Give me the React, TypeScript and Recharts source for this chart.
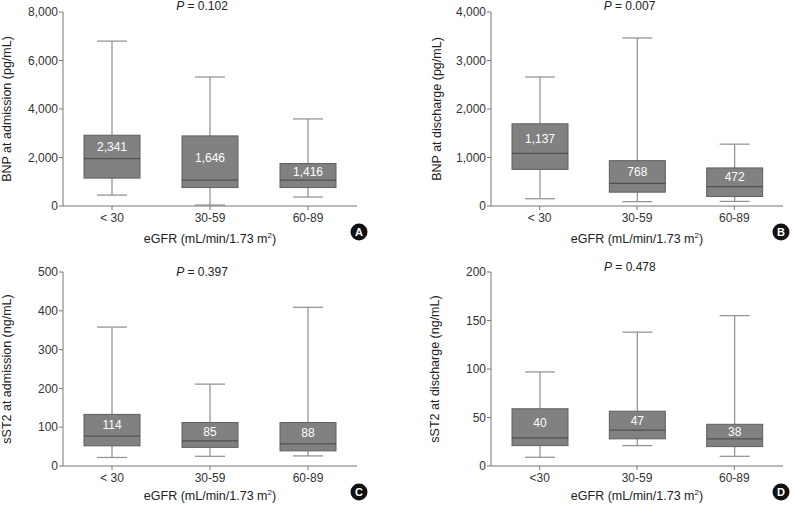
import React from "react";
import { ComposedChart, Bar, XAxis, YAxis } from "recharts";

const CATS = ["< 30", "30-59", "60-89"];
const CATS_D = ["<30", "30-59", "60-89"];

// [min, q1, median, q3, max] per eGFR group
const BNP_ADMISSION = [
  [450, 1150, 1950, 2920, 6800],
  [40, 760, 1070, 2890, 5320],
  [370, 760, 1070, 1750, 3590],
];
const BNP_ADMISSION_MEAN = [2341, 1646, 1416];

const BNP_DISCHARGE = [
  [150, 755, 1085, 1695, 2660],
  [90, 285, 465, 935, 3465],
  [95, 195, 400, 785, 1275],
];
const BNP_DISCHARGE_MEAN = [1137, 768, 472];

const SST2_ADMISSION = [
  [22, 52, 77, 133, 358],
  [25, 48, 65, 112, 211],
  [26, 39, 57, 112, 409],
];
const SST2_ADMISSION_MEAN = [114, 85, 88];

const SST2_DISCHARGE = [
  [9, 21, 29, 59, 97],
  [21, 28, 37, 56.5, 138],
  [10, 20, 28, 43, 155],
];
const SST2_DISCHARGE_MEAN = [40, 47, 38];

const TICKS_A = [0, 2000, 4000, 6000, 8000];
const TICKS_B = [0, 1000, 2000, 3000, 4000];
const TICKS_C = [0, 100, 200, 300, 400, 500];
const TICKS_D = [0, 50, 100, 150, 200];

const FONT = "'Liberation Sans', Arial, Helvetica, sans-serif";

const fmt = (v: number) => v.toLocaleString("en-US");

const BoxShape = (props: any) => {
  const { x, y, width, height, payload } = props;
  const top = Math.min(y, y + height);
  const bottom = Math.max(y, y + height);
  const [min, q1, med, q3, max] = payload.box;
  const pix = (v: number) => bottom - ((v - min) / (max - min)) * (bottom - top);
  const cx = x + width / 2;
  const cap = 15;
  const whisker = "#8e8e8e";
  const labelY = (pix(q3) + pix(med)) / 2;
  return (
    <g>
      <line x1={cx} x2={cx} y1={pix(max)} y2={pix(q3)} stroke={whisker} strokeWidth={1.2} />
      <line x1={cx} x2={cx} y1={pix(q1)} y2={pix(min)} stroke={whisker} strokeWidth={1.2} />
      <line x1={cx - cap} x2={cx + cap} y1={pix(max)} y2={pix(max)} stroke={whisker} strokeWidth={1.2} />
      <line x1={cx - cap} x2={cx + cap} y1={pix(min)} y2={pix(min)} stroke={whisker} strokeWidth={1.2} />
      <rect
        x={x}
        y={pix(q3)}
        width={width}
        height={pix(q1) - pix(q3)}
        fill="#818181"
        stroke="#5f5f5f"
        strokeWidth={1}
      />
      <line x1={x} x2={x + width} y1={pix(med)} y2={pix(med)} stroke="#505050" strokeWidth={1.3} />
      <text
        x={cx}
        y={labelY}
        textAnchor="middle"
        dominantBaseline="central"
        fill="#ffffff"
        fontSize={12}
        fontFamily={FONT}
      >
        {fmt(payload.mean)}
      </text>
    </g>
  );
};

interface PanelProps {
  left: number;
  top: number;
  width: number;
  height: number;
  marginTop: number;
  marginRight: number;
  yWidth: number;
  xHeight: number;
  yLabelX: number;
  xLabelDy: number;
  cats: string[];
  boxes: number[][];
  means: number[];
  ticks: number[];
  yLabel: string;
  pText: string;
  pX: number;
  pY: number;
  badge: string;
  badgeX: number;
  badgeY: number;
}

const Panel: React.FC<PanelProps> = (p) => {
  const data = p.cats.map((cat, i) => ({
    cat,
    range: [p.boxes[i][0], p.boxes[i][4]],
    box: p.boxes[i],
    mean: p.means[i],
  }));
  const tickStyle = { fontSize: 12, fill: "#333", fontFamily: FONT };
  return (
    <div style={{ position: "absolute", left: p.left, top: p.top, width: p.width, height: p.height }}>
      <ComposedChart
        width={p.width}
        height={p.height}
        data={data}
        margin={{ top: p.marginTop, right: p.marginRight, left: 0, bottom: 0 }}
      >
        <XAxis
          dataKey="cat"
          height={p.xHeight}
          tick={tickStyle}
          tickSize={4}
          tickMargin={3}
          axisLine={{ stroke: "#777" }}
          tickLine={{ stroke: "#777" }}
          label={{
            content: (lp: any) => {
              const vb = lp.viewBox;
              return (
                <text
                  x={vb.x + vb.width / 2}
                  y={vb.y + p.xLabelDy}
                  textAnchor="middle"
                  fontSize={12.5}
                  fill="#222"
                  fontFamily={FONT}
                >
                  eGFR (mL/min/1.73 m
                  <tspan fontSize={8} dy={-5}>2</tspan>
                  <tspan dy={5}>)</tspan>
                </text>
              );
            },
          }}
        />
        <YAxis
          width={p.yWidth}
          domain={[0, p.ticks[p.ticks.length - 1]]}
          ticks={p.ticks}
          tickFormatter={fmt}
          tick={tickStyle}
          tickSize={4}
          tickMargin={1}
          axisLine={{ stroke: "#777" }}
          tickLine={{ stroke: "#777" }}
          label={{
            content: (lp: any) => {
              const vb = lp.viewBox;
              const cy = vb.y + vb.height / 2;
              const lx = p.yLabelX;
              return (
                <text
                  x={lx}
                  y={cy}
                  transform={`rotate(-90 ${lx} ${cy})`}
                  textAnchor="middle"
                  dominantBaseline="central"
                  fontSize={12.5}
                  fill="#222"
                  fontFamily={FONT}
                >
                  {p.yLabel}
                </text>
              );
            },
          }}
        />
        <Bar dataKey="range" barSize={56} shape={<BoxShape />} isAnimationActive={false} />
      </ComposedChart>
      <svg
        width={p.width}
        height={p.height}
        style={{ position: "absolute", left: 0, top: 0, pointerEvents: "none" }}
      >
        <text x={p.pX} y={p.pY} textAnchor="middle" fontSize={12} fill="#222" fontFamily={FONT}>
          <tspan fontStyle="italic">P</tspan> = {p.pText}
        </text>
        <circle cx={p.badgeX} cy={p.badgeY} r={8.5} fill="#111" />
        <text
          x={p.badgeX}
          y={p.badgeY}
          textAnchor="middle"
          dominantBaseline="central"
          fontSize={11}
          fontWeight="bold"
          fill="#fff"
          fontFamily={FONT}
        >
          {p.badge}
        </text>
      </svg>
    </div>
  );
};

export default function App() {
  return (
    <div style={{ position: "absolute", left: 0, top: 0, width: 794, height: 507, background: "#fff" }}>
      <Panel
        left={0} top={0} width={397} height={250}
        marginTop={12} marginRight={40} yWidth={63} xHeight={44}
        yLabelX={7} xLabelDy={36.5}
        cats={CATS} boxes={BNP_ADMISSION} means={BNP_ADMISSION_MEAN} ticks={TICKS_A}
        yLabel="BNP at admission (pg/mL)"
        pText="0.102" pX={202} pY={10}
        badge="A" badgeX={359} badgeY={232}
      />
      <Panel
        left={400} top={0} width={394} height={250}
        marginTop={12} marginRight={11} yWidth={91} xHeight={44}
        yLabelX={37} xLabelDy={36.5}
        cats={CATS} boxes={BNP_DISCHARGE} means={BNP_DISCHARGE_MEAN} ticks={TICKS_B}
        yLabel="BNP at discharge (pg/mL)"
        pText="0.007" pX={229.5} pY={10}
        badge="B" badgeX={381} badgeY={232}
      />
      <Panel
        left={0} top={255} width={397} height={252}
        marginTop={17} marginRight={40} yWidth={63} xHeight={41}
        yLabelX={7} xLabelDy={34}
        cats={CATS} boxes={SST2_ADMISSION} means={SST2_ADMISSION_MEAN} ticks={TICKS_C}
        yLabel="sST2 at admission (ng/mL)"
        pText="0.397" pX={202} pY={21}
        badge="C" badgeX={359} badgeY={237}
      />
      <Panel
        left={400} top={255} width={394} height={252}
        marginTop={17} marginRight={11} yWidth={91} xHeight={41}
        yLabelX={35} xLabelDy={34}
        cats={CATS_D} boxes={SST2_DISCHARGE} means={SST2_DISCHARGE_MEAN} ticks={TICKS_D}
        yLabel="sST2 at discharge (ng/mL)"
        pText="0.478" pX={229.8} pY={16}
        badge="D" badgeX={381} badgeY={237}
      />
    </div>
  );
}
